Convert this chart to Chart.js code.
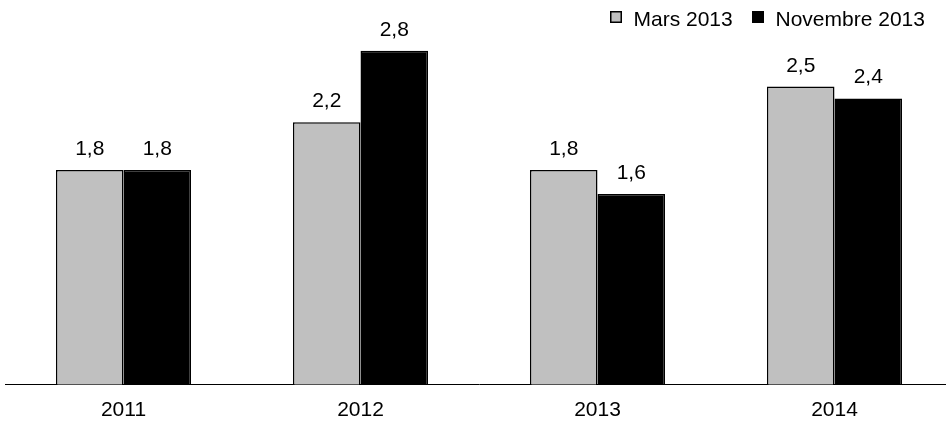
<!DOCTYPE html>
<html>
<head>
<meta charset="utf-8">
<script src="https://cdn.jsdelivr.net/npm/chart.js@4.4.1/dist/chart.umd.min.js"></script>
<style>
html,body{margin:0;padding:0;background:#fff;overflow:hidden;width:946px;height:422px;}
#wrap{width:953px;height:436px;position:relative;}
</style>
</head>
<body>
<div id="wrap"><canvas id="c"></canvas></div>
<script>
const categories = ['2011', '2012', '2013', '2014'];
const seriesNames = ['Mars 2013', 'Novembre 2013'];
const mars2013 = [1.8, 2.2, 1.8, 2.5];
const novembre2013 = [1.8, 2.8, 1.6, 2.4];

const FONT = '"Liberation Sans", Arial, sans-serif';

const valueLabels = {
  id: 'valueLabels',
  afterDatasetsDraw(chart) {
    const ctx = chart.ctx;
    ctx.save();
    ctx.font = '21px ' + FONT;
    ctx.fillStyle = '#000';
    ctx.textAlign = 'center';
    ctx.textBaseline = 'alphabetic';
    chart.data.datasets.forEach((ds, i) => {
      chart.getDatasetMeta(i).data.forEach((bar, j) => {
        const v = ds.data[j].toFixed(1).replace('.', ',');
        ctx.fillText(v, bar.x, bar.y - 15);
      });
    });
    ctx.restore();
  }
};

const topLegend = {
  id: 'topLegend',
  afterDraw(chart) {
    const ctx = chart.ctx;
    ctx.save();
    ctx.font = '21px ' + FONT;
    ctx.textAlign = 'left';
    ctx.textBaseline = 'alphabetic';
    const ds = chart.data.datasets;
    const boxX = [610, 752];
    ds.forEach((d, i) => {
      const x = boxX[i];
      ctx.fillStyle = d.backgroundColor;
      ctx.fillRect(x, 11, 12, 12);
      ctx.strokeStyle = '#000';
      ctx.lineWidth = 1.5;
      ctx.strokeRect(x + 0.75, 11.75, 10.5, 10.5);
      ctx.fillStyle = '#000';
      ctx.fillText(d.label, x + 23.5, 26);
    });
    ctx.restore();
  }
};

new Chart(document.getElementById('c'), {
  type: 'bar',
  data: {
    labels: categories,
    datasets: [
      { label: seriesNames[0], data: mars2013, backgroundColor: '#C0C0C0', borderColor: '#000', borderWidth: 1.5, borderSkipped: 'bottom' },
      { label: seriesNames[1], data: novembre2013, backgroundColor: '#000', borderColor: '#000', borderWidth: 1.5, borderSkipped: 'bottom' }
    ]
  },
  options: {
    responsive: true,
    maintainAspectRatio: false,
    animation: false,
    layout: { padding: { top: 3, left: 5, right: 0, bottom: 0 } },
    datasets: { bar: { categoryPercentage: 0.57, barPercentage: 1.0 } },
    plugins: {
      legend: { display: false },
      tooltip: { enabled: false }
    },
    scales: {
      x: {
        grid: { display: false, drawTicks: false },
        border: { display: true, color: '#000', width: 1 },
        ticks: { font: { family: FONT, size: 21 }, color: '#000', padding: 13 }
      },
      y: {
        display: false,
        min: 0,
        max: 3.2
      }
    }
  },
  plugins: [valueLabels, topLegend]
});
</script>
</body>
</html>
